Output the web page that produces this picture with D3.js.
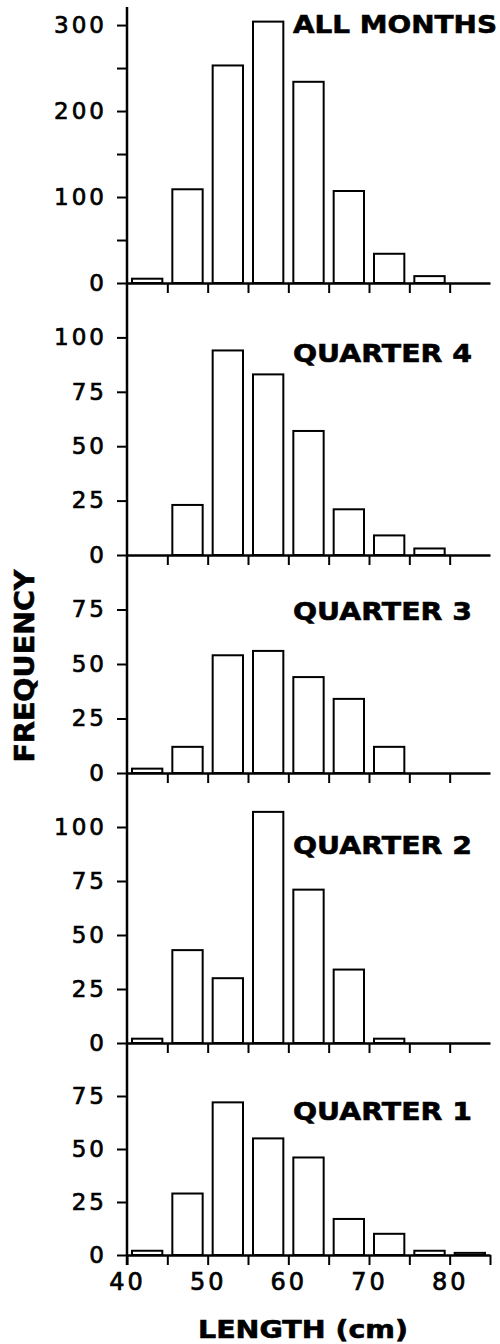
<!DOCTYPE html>
<html>
<head>
<meta charset="utf-8">
<script src="https://cdn.jsdelivr.net/npm/d3@7/dist/d3.min.js"></script>
<style>
  html, body { margin: 0; padding: 0; background: #fff; }
  svg { display: block; }
  .tick text { font-family: "DejaVu Sans", sans-serif; fill: #000; }
</style>
</head>
<body>
<svg id="chart" width="500" height="1344"></svg>
<script>
// ---- data (length bins are lower edges, 5 cm wide) ----
const lengthBins = [40, 45, 50, 55, 60, 65, 70, 75, 80];
const allMonths  = [5, 109, 253, 304, 234, 107, 34, 8, 0];
const quarter4   = [0, 23, 94, 83, 57, 21, 9, 3, 0];
const quarter3   = [2, 12, 54, 56, 44, 34, 12, 0, 0];
const quarter2   = [2, 43, 30, 107, 71, 34, 2, 0, 0];
const quarter1   = [2, 29, 72, 55, 46, 17, 10, 2, 1];
const panelTitles = ["ALL MONTHS", "QUARTER 4", "QUARTER 3", "QUARTER 2", "QUARTER 1"];
const xTickLabels = [40, 50, 60, 70, 80];
const yTicksAll = [0, 50, 100, 150, 200, 250, 300];
const yLabelsAll = [0, 100, 200, 300];
const yTicksQ125 = [0, 25, 50, 75, 100];
const yTicksQ100 = [0, 25, 50, 75];
const xLabel = "LENGTH (cm)";
const yLabel = "FREQUENCY";

// ---- layout ----
const svg = d3.select("#chart");
const binWidth = 5;
const x = d3.scaleLinear().domain([40, 85]).range([127, 490]);

const panels = [
  { data: allMonths, max: 321, top: 7,    base: 283,  ticks: yTicksAll,  labels: yLabelsAll, titleY: 33,   titleLen: 204 },
  { data: quarter4,  max: 125, top: 283,  base: 555,  ticks: yTicksQ125, labels: yTicksQ125, titleY: 362,  titleLen: 179 },
  { data: quarter3,  max: 100, top: 555,  base: 773,  ticks: yTicksQ100, labels: yTicksQ100, titleY: 620,  titleLen: 179 },
  { data: quarter2,  max: 125, top: 773,  base: 1043, ticks: yTicksQ125, labels: yTicksQ125, titleY: 854,  titleLen: 179 },
  { data: quarter1,  max: 100, top: 1043, base: 1255, ticks: yTicksQ100, labels: yTicksQ100, titleY: 1120, titleLen: 179 }
];

panels.forEach((p, i) => {
  const y = d3.scaleLinear().domain([0, p.max]).range([p.base, p.top]);
  const g = svg.append("g");
  const isLast = i === panels.length - 1;

  // bars
  const bins = lengthBins.map((b, j) => ({ lo: b, hi: b + binWidth, v: p.data[j] })).filter(d => d.v > 0);
  g.selectAll("rect.bar").data(bins).enter().append("rect")
    .attr("class", "bar")
    .attr("x", d => x(d.lo) + 5)
    .attr("width", d => x(d.hi) - x(d.lo) - 10)
    .attr("y", d => y(d.v))
    .attr("height", d => y(0) - y(d.v))
    .attr("fill", "#fff")
    .attr("stroke", "#000")
    .attr("stroke-width", 2);

  // y axis ticks
  const yAxis = d3.axisLeft(y)
    .tickValues(p.ticks)
    .tickSize(10)
    .tickPadding(10)
    .tickFormat(v => p.labels.includes(v) ? String(v) : "");
  const ga = g.append("g").attr("transform", `translate(${x(40)},0)`).call(yAxis);
  ga.select(".domain").remove();
  ga.selectAll(".tick line").attr("stroke", "#000").attr("stroke-width", 2);
  ga.selectAll(".tick text")
    .attr("font-size", 23)
    .attr("letter-spacing", 3)
    .attr("stroke", "#000").attr("stroke-width", 0.7);

  // x axis (baseline)
  const xTicks = isLast ? d3.range(40, 86, 5) : d3.range(45, 81, 5);
  const xAxis = d3.axisBottom(x)
    .tickValues(xTicks)
    .tickSize(10)
    .tickSizeOuter(0)
    .tickPadding(8)
    .tickFormat(v => (isLast && xTickLabels.includes(v)) ? String(v) : "");
  const gx = g.append("g").attr("transform", `translate(0,${p.base})`).call(xAxis);
  gx.select(".domain").attr("stroke", "#000").attr("stroke-width", 2.5);
  gx.selectAll(".tick line").attr("stroke", "#000").attr("stroke-width", 2);
  gx.selectAll(".tick text")
    .attr("font-size", 24)
    .attr("letter-spacing", 3)
    .attr("stroke", "#000").attr("stroke-width", 0.7);

  // panel title
  g.append("text")
    .attr("x", 293)
    .attr("y", p.titleY)
    .attr("textLength", p.titleLen)
    .attr("lengthAdjust", "spacingAndGlyphs")
    .attr("font-family", "DejaVu Sans, sans-serif")
    .attr("font-weight", "bold")
    .attr("font-size", 25)
    .attr("stroke", "#000").attr("stroke-width", 0.6)
    .text(panelTitles[i]);
});

// continuous vertical axis line
svg.append("line")
  .attr("x1", x(40)).attr("x2", x(40))
  .attr("y1", 7).attr("y2", 1265)
  .attr("stroke", "#000").attr("stroke-width", 2.5);

// axis titles
svg.append("text")
  .attr("transform", "translate(34,666) rotate(-90)")
  .attr("text-anchor", "middle")
  .attr("textLength", 193)
  .attr("lengthAdjust", "spacingAndGlyphs")
  .attr("font-family", "DejaVu Sans, sans-serif")
  .attr("font-weight", "bold")
  .attr("font-size", 26)
  .attr("stroke", "#000").attr("stroke-width", 0.6)
  .text(yLabel);

svg.append("text")
  .attr("x", 303)
  .attr("y", 1338)
  .attr("text-anchor", "middle")
  .attr("textLength", 210)
  .attr("lengthAdjust", "spacingAndGlyphs")
  .attr("font-family", "DejaVu Sans, sans-serif")
  .attr("font-weight", "bold")
  .attr("font-size", 24)
  .attr("stroke", "#000").attr("stroke-width", 0.6)
  .text(xLabel);
</script>
</body>
</html>
